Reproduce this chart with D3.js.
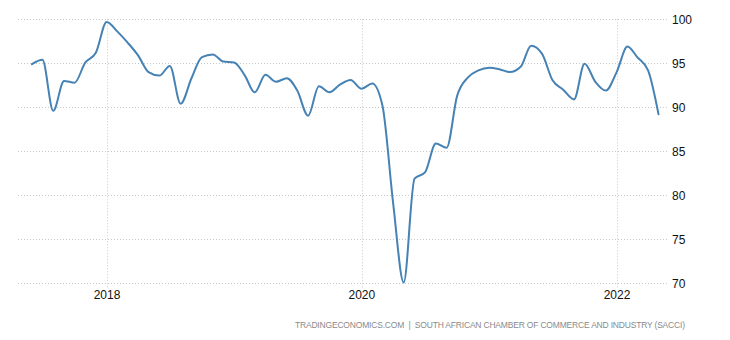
<!DOCTYPE html>
<html>
<head>
<meta charset="utf-8">
<script src="https://cdn.jsdelivr.net/npm/d3@7"></script>
<style>
  html, body { margin: 0; padding: 0; background: #fff; }
  svg { display: block; }
</style>
</head>
<body>
<svg id="chart" width="730" height="340"></svg>
<script>
// Business confidence index, monthly readings (dated at month end)
const months = [
  "2017-05","2017-06","2017-07","2017-08","2017-09","2017-10","2017-11","2017-12",
  "2018-01","2018-02","2018-03","2018-04","2018-05","2018-06","2018-07","2018-08","2018-09","2018-10","2018-11","2018-12",
  "2019-01","2019-02","2019-03","2019-04","2019-05","2019-06","2019-07","2019-08","2019-09","2019-10","2019-11","2019-12",
  "2020-01","2020-02","2020-03","2020-04","2020-05","2020-06","2020-07","2020-08","2020-09","2020-10","2020-11","2020-12",
  "2021-01","2021-02","2021-03","2021-04","2021-05","2021-06","2021-07","2021-08","2021-09","2021-10","2021-11","2021-12",
  "2022-01","2022-02","2022-03","2022-04"
];
const values = [
  94.9, 95.4, 89.6, 93.0, 92.8, 95.1, 96.2, 99.7,
  98.6, 97.4, 95.9, 94.0, 93.6, 94.7, 90.4, 93.3, 95.7, 96.0, 95.2, 95.1,
  93.6, 91.7, 93.7, 92.9, 93.3, 91.9, 89.05, 92.4, 91.7, 92.6, 93.1, 92.1,
  92.7, 90.2, 79.0, 70.1, 81.9, 82.6, 85.9, 85.4, 91.3, 93.4, 94.2, 94.5,
  94.3, 94.0, 94.6, 97.0, 96.1, 93.1, 92.0, 90.9, 94.95, 92.9, 91.9, 94.0,
  96.9, 95.7, 94.2, 89.2
];
const yTicks = [70, 75, 80, 85, 90, 95, 100];
const xTickYears = [2018, 2020, 2022];
const sourceText = "TRADINGECONOMICS.COM  |  SOUTH AFRICAN CHAMBER OF COMMERCE AND INDUSTRY (SACCI)";

const monthEnd = s => {
  const [y, m] = s.split("-").map(Number);
  return new Date(Date.UTC(y, m, 0));
};
const data = months.map((m, i) => ({ date: monthEnd(m), value: values[i] }));

const svg = d3.select("#chart");
const plotLeft = 18, plotRight = 669, plotTop = 19.3, plotBottom = 283.3;

const x = d3.scaleUtc()
  .domain([new Date(Date.UTC(2018, 0, 1)), new Date(Date.UTC(2022, 0, 1))])
  .range([107, 617]);
const y = d3.scaleLinear().domain([70, 100]).range([plotBottom, plotTop]);

const grid = svg.append("g")
  .attr("stroke", "#c8c8c8")
  .attr("stroke-width", 1)
  .attr("stroke-dasharray", "1,2");

// horizontal grid
grid.selectAll("line.h").data(yTicks).join("line")
  .attr("class", "h")
  .attr("x1", plotLeft).attr("x2", plotRight)
  .attr("y1", d => Math.round(y(d)) + 0.5).attr("y2", d => Math.round(y(d)) + 0.5);

// vertical grid at year starts
grid.selectAll("line.v").data(xTickYears).join("line")
  .attr("class", "v")
  .attr("x1", d => Math.round(x(new Date(Date.UTC(d, 0, 1)))) + 0.5)
  .attr("x2", d => Math.round(x(new Date(Date.UTC(d, 0, 1)))) + 0.5)
  .attr("y1", plotTop).attr("y2", plotBottom + 4);

// right-hand value labels
svg.append("g").selectAll("text").data(yTicks).join("text")
  .attr("x", 672)
  .attr("y", d => y(d))
  .attr("dy", "0.35em")
  .attr("font-family", "Liberation Sans, Arial, sans-serif")
  .attr("font-size", 12)
  .attr("fill", "#111")
  .text(d => d);

// year labels
svg.append("g").selectAll("text").data(xTickYears).join("text")
  .attr("x", d => x(new Date(Date.UTC(d, 0, 1))))
  .attr("y", 299)
  .attr("text-anchor", "middle")
  .attr("font-family", "Liberation Sans, Arial, sans-serif")
  .attr("font-size", 12)
  .attr("fill", "#111")
  .text(d => d);

// the index line
const line = d3.line()
  .x(d => x(d.date))
  .y(d => y(d.value))
  .curve(d3.curveMonotoneX);

svg.append("path")
  .datum(data)
  .attr("fill", "none")
  .attr("stroke", "#4682b4")
  .attr("stroke-width", 2)
  .attr("stroke-linejoin", "round")
  .attr("stroke-linecap", "round")
  .attr("d", line);

// source note
svg.append("text")
  .attr("x", 295)
  .attr("y", 328)
  .attr("font-family", "Liberation Sans, Arial, sans-serif")
  .attr("font-size", 8.5)
  .attr("fill", "#8a8a8a")
  .attr("textLength", 390)
  .attr("lengthAdjust", "spacing")
  .attr("xml:space", "preserve")
  .style("white-space", "pre")
  .text(sourceText);
</script>
</body>
</html>
